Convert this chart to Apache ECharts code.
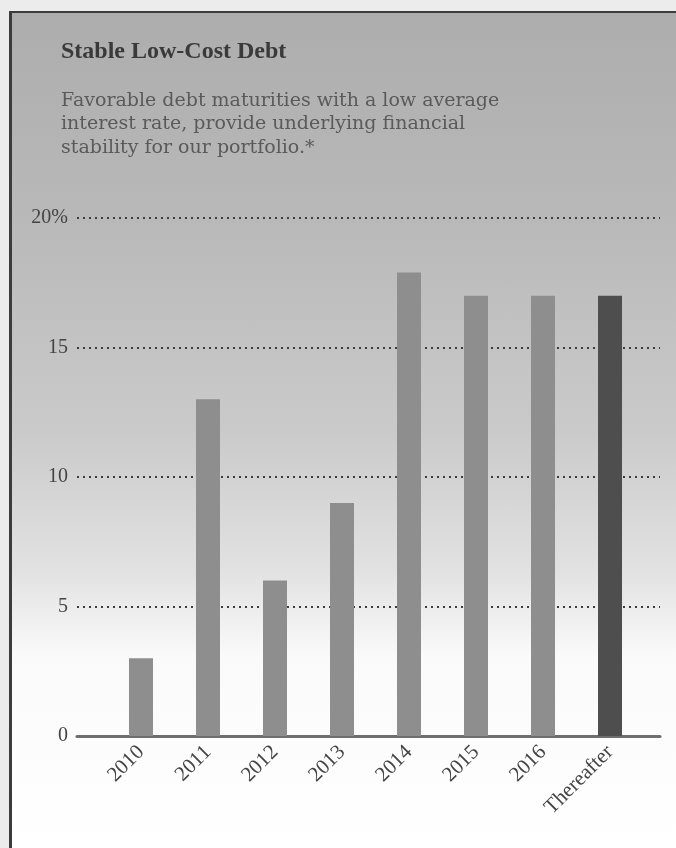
<!DOCTYPE html>
<html>
<head>
<meta charset="utf-8">
<script src="https://cdn.jsdelivr.net/npm/echarts@6/dist/echarts.min.js"></script>
<style>
  html, body { margin: 0; padding: 0; width: 676px; height: 848px; overflow: hidden; background: #ececec; }
  #panel { position: absolute; left: 9px; top: 11px; width: 667px; height: 837px; box-sizing: border-box;
           border-left: 3px solid #3c3c3c; border-top: 2px solid #3c3c3c;
           background: linear-gradient(to bottom, #adadad 0%, #b9b9b9 25%, #cacaca 50%, #e2e2e2 67%, #fafafa 77%, #ffffff 100%); }
  #chart { position: absolute; left: 0; top: 0; width: 676px; height: 848px; }
</style>
</head>
<body>
<div id="panel"></div>
<div id="chart"></div>
<script>
const categories = ['2010', '2011', '2012', '2013', '2014', '2015', '2016', 'Thereafter'];
const values = [3, 13, 6, 9, 17.9, 17, 17, 17];
const yTicks = [0, 5, 10, 15, 20];
const titleText = 'Stable Low-Cost Debt';
const subtitleText = 'Favorable debt maturities with a low average\ninterest rate, provide underlying financial\nstability for our portfolio.*';

const serif = "'Liberation Serif', 'DejaVu Serif', serif";
const wideSerif = "'DejaVu Serif', 'Liberation Serif', serif";
const chart = echarts.init(document.getElementById('chart'), null, { renderer: 'canvas' });

chart.setOption({
  backgroundColor: 'transparent',
  animation: false,
  title: [
    { text: titleText, left: 56, top: 35,
      textStyle: { fontFamily: serif, fontSize: 24, fontWeight: 'bold', color: '#3a3a3a' } },
    { text: subtitleText, left: 56, top: 84,
      textStyle: { fontFamily: wideSerif, fontSize: 19, fontWeight: 'normal', color: '#5a5a5a', lineHeight: 23.5 } }
  ],
  grid: { left: 77, right: 16, top: 218, bottom: 112, containLabel: false },
  xAxis: {
    type: 'value',
    min: -0.955,
    max: 7.746,
    axisLine: { show: true, lineStyle: { color: '#6e6e6e', width: 3 } },
    axisTick: { show: false },
    splitLine: { show: false },
    axisLabel: {
      customValues: categories.map((c, i) => i),
      formatter: v => categories[Math.round(v)] || '',
      rotate: 45,
      margin: 13,
      fontFamily: serif,
      fontSize: 21,
      color: '#444'
    }
  },
  yAxis: {
    type: 'value',
    min: 0,
    max: 20,
    interval: 5,
    axisLine: { show: false },
    axisTick: { show: false },
    axisLabel: {
      customValues: yTicks,
      formatter: v => (v === 20 ? '20%' : String(v)),
      margin: 9,
      fontFamily: serif,
      fontSize: 20,
      color: '#444'
    },
    splitLine: { show: true, lineStyle: { color: '#3c3c3c', width: 2, type: [2, 4] } }
  },
  series: [{
    type: 'bar',
    barWidth: 24,
    data: values.map((v, i) => [i, v]),
    itemStyle: {
      color: p => (p.dataIndex === categories.length - 1 ? '#4e4e4e' : '#8e8e8e')
    },
    z: 3
  }]
});
</script>
</body>
</html>
